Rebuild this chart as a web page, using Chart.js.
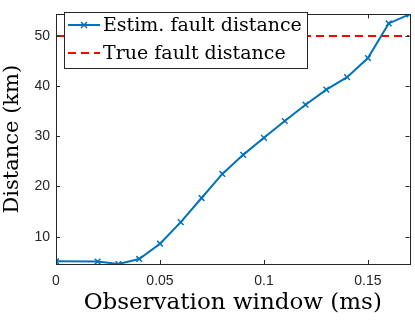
<!DOCTYPE html>
<html>
<head>
<meta charset="utf-8">
<script src="https://cdn.jsdelivr.net/npm/chart.js@4.4.1/dist/chart.umd.min.js"></script>
<style>
  html, body { margin: 0; padding: 0; background: #fff; }
  #wrap { width: 415px; height: 320px; }
</style>
</head>
<body>
<div id="wrap"><canvas id="faultChart" width="415" height="320"></canvas></div>
<script>
// observation window (ms)
var windowMs = [0, 0.02, 0.03, 0.04, 0.05, 0.06, 0.07, 0.08, 0.09, 0.10, 0.11, 0.12, 0.13, 0.14, 0.15, 0.16, 0.17];
// estimated fault distance (km)
var estDist = [5.1, 5.05, 4.55, 5.55, 8.6, 12.9, 17.7, 22.5, 26.3, 29.7, 33.05, 36.3, 39.3, 41.8, 45.6, 52.5, 54.3];
var trueDist = 50;
var xTicks = [0, 0.05, 0.1, 0.15];
var yTicks = [10, 20, 30, 40, 50];
var xMax = 0.17;

var axisColor = '#262626';
var serif = '"DejaVu Serif", "Liberation Serif", serif';
var sans = '"Liberation Sans", Arial, sans-serif';

var estPoints = windowMs.map(function(x, i) { return { x: x, y: estDist[i] }; });
var truePoints = [{ x: 0, y: trueDist }, { x: xMax, y: trueDist }];

// box around axes + inward ticks, MATLAB style
var boxPlugin = {
  id: 'boxAxes',
  afterDatasetsDraw: function(chart) {
    var c = chart.ctx, a = chart.chartArea;
    var xs = chart.scales.x, ys = chart.scales.y;
    c.save();
    c.strokeStyle = axisColor;
    c.lineWidth = 1;
    c.beginPath();
    xTicks.forEach(function(t) {
      var px = Math.round(xs.getPixelForValue(t)) + 0.5;
      c.moveTo(px, a.bottom); c.lineTo(px, a.bottom - 4);
      c.moveTo(px, a.top); c.lineTo(px, a.top + 4);
    });
    yTicks.forEach(function(t) {
      var py = Math.round(ys.getPixelForValue(t)) + 0.5;
      c.moveTo(a.left, py); c.lineTo(a.left + 4, py);
      c.moveTo(a.right, py); c.lineTo(a.right - 4, py);
    });
    c.stroke();
    c.strokeRect(Math.round(a.left) + 0.5, Math.round(a.top) + 0.5,
                 Math.round(a.right - a.left), Math.round(a.bottom - a.top));
    c.restore();
  },
  afterDraw: function(chart) {
    // legend box in the upper left corner
    var c = chart.ctx;
    var ds = chart.data.datasets;
    var bx = 64.5, by = 12.5, bw = 243, bh = 56;
    c.save();
    c.fillStyle = '#fff';
    c.fillRect(bx, by, bw, bh);
    c.strokeStyle = axisColor;
    c.lineWidth = 1;
    c.strokeRect(bx, by, bw, bh);
    var rows = [25, 53];
    ds.forEach(function(d, i) {
      var y = rows[i];
      c.strokeStyle = d.borderColor;
      c.lineWidth = 2;
      c.setLineDash(d.borderDash || []);
      c.beginPath();
      c.moveTo(68, y); c.lineTo(100, y);
      c.stroke();
      c.setLineDash([]);
      if (d.pointRadius) {
        c.lineWidth = 1.5;
        c.beginPath();
        c.moveTo(81, y - 3); c.lineTo(87, y + 3);
        c.moveTo(87, y - 3); c.lineTo(81, y + 3);
        c.stroke();
      }
      c.fillStyle = '#000';
      c.font = '19px ' + serif;
      c.textBaseline = 'middle';
      c.fillText(d.label, 103, y + 1);
    });
    c.restore();
  }
};

var ctx = document.getElementById('faultChart').getContext('2d');
var myChart = new Chart(ctx, {
  type: 'line',
  data: {
    datasets: [
      {
        label: 'Estim. fault distance',
        data: estPoints,
        borderColor: '#0072BD',
        backgroundColor: '#0072BD',
        borderWidth: 2,
        fill: false,
        tension: 0,
        pointStyle: 'crossRot',
        pointRadius: 4,
        pointBorderWidth: 1.5,
        pointBorderColor: '#0072BD'
      },
      {
        label: 'True fault distance',
        data: truePoints,
        borderColor: '#FF0000',
        borderWidth: 2,
        borderDash: [8, 5],
        fill: false,
        pointRadius: 0
      }
    ]
  },
  options: {
    responsive: false,
    animation: false,
    layout: { padding: { top: 3, right: 5, left: 0, bottom: 0 } },
    plugins: { legend: { display: false }, tooltip: { enabled: false } },
    scales: {
      x: {
        type: 'linear',
        min: 0,
        max: xMax,
        afterBuildTicks: function(s) { s.ticks = xTicks.map(function(v) { return { value: v }; }); },
        afterFit: function(s) { s.height = 56; },
        grid: { display: false, drawTicks: false },
        border: { display: false },
        ticks: {
          color: axisColor,
          font: { family: sans, size: 14 },
          padding: 9,
          maxRotation: 0,
          callback: function(v) { return String(v); }
        },
        title: {
          display: true,
          text: 'Observation window (ms)',
          color: '#000',
          font: { family: serif, size: 23, lineHeight: 1 },
          padding: { top: 0, bottom: 5 }
        }
      },
      y: {
        min: Math.min.apply(null, estDist),
        max: Math.max.apply(null, estDist),
        afterBuildTicks: function(s) { s.ticks = yTicks.map(function(v) { return { value: v }; }); },
        afterFit: function(s) { s.width = 56; },
        grid: { display: false, drawTicks: false },
        border: { display: false },
        ticks: {
          color: axisColor,
          font: { family: sans, size: 14 },
          padding: 6
        },
        title: {
          display: true,
          text: 'Distance (km)',
          color: '#000',
          font: { family: serif, size: 21, lineHeight: 1 },
          padding: { top: 2, bottom: 0 }
        }
      }
    }
  },
  plugins: [boxPlugin]
});
</script>
</body>
</html>
